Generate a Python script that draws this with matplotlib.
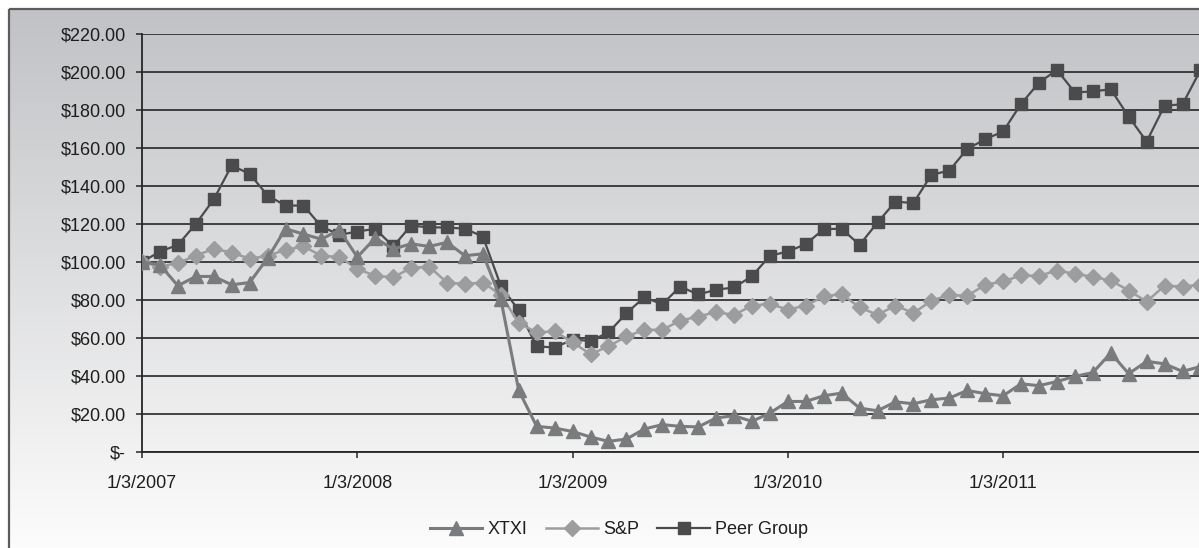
import numpy as np
import matplotlib
matplotlib.use("Agg")
import matplotlib.pyplot as plt

# ---------------- data ----------------
months = list(range(60))  # monthly points starting 1/3/2007
xtxi = [100, 98.5, 87.5, 92.4, 92.4, 88.0, 89.2, 102.0, 117.5, 114.7,
        112.0, 116.9, 102.6, 112.6, 106.8, 109.6, 108.2, 110.3, 103.3, 104.3,
        80.5, 32.4, 13.5, 12.6, 10.8, 7.9, 5.6, 6.8, 12.1, 14.4,
        13.5, 13.2, 17.9, 19.1, 16.1, 20.5, 26.6, 26.6, 29.6, 31.0,
        23.1, 21.7, 26.4, 25.4, 27.5, 28.4, 32.4, 30.7, 29.6, 35.9,
        34.9, 37.1, 39.8, 41.8, 52.1, 41.2, 47.7, 46.4, 42.4, 45.0]
sp = [100, 97.6, 99.4, 103.4, 106.9, 105.0, 101.7, 103.3, 106.4, 108.2,
      103.3, 102.6, 96.4, 92.7, 92.0, 96.8, 97.6, 89.2, 88.4, 89.2,
      82.7, 67.9, 62.9, 63.5, 57.7, 51.5, 55.6, 60.8, 64.3, 64.3,
      69.1, 71.3, 73.6, 72.2, 77.0, 78.0, 74.9, 77.1, 81.9, 83.1,
      76.1, 72.2, 77.1, 73.1, 79.6, 82.7, 82.2, 88.0, 89.8, 92.9,
      92.7, 95.5, 93.8, 92.2, 90.3, 85.0, 79.2, 87.5, 87.1, 88.0]
peer = [100, 105.5, 109.0, 120.0, 133.0, 150.8, 146.4, 135.0, 129.7, 129.7,
        118.7, 114.3, 116.0, 117.5, 108.2, 119.2, 118.2, 118.2, 117.5, 113.4,
        87.5, 74.5, 55.6, 55.0, 59.1, 58.5, 62.9, 73.0, 81.5, 77.7,
        87.1, 82.9, 85.4, 86.6, 92.5, 103.3, 105.5, 109.4, 117.3, 117.5,
        109.0, 120.8, 131.8, 131.0, 145.9, 148.1, 159.5, 164.6, 168.7, 183.2,
        194.4, 201.1, 189.2, 189.8, 190.9, 176.5, 163.4, 182.3, 183.0, 201.0]
tick_positions = [0, 12, 24, 36, 48]
tick_labels = ["1/3/2007", "1/3/2008", "1/3/2009", "1/3/2010", "1/3/2011"]
y_ticks = list(range(0, 221, 20))
series_names = ["XTXI", "S&P", "Peer Group"]

# ---------------- style ----------------
plt.rcParams['font.family'] = ['Liberation Sans', 'DejaVu Sans']
W, H = 1199, 548
fig = plt.figure(figsize=(W / 100, H / 100), dpi=100)
fig.patch.set_facecolor('white')

# background gradient + chart frame
bg = fig.add_axes([0, 0, 1, 1], zorder=0)
bg.axis('off')
grad = np.linspace(0, 1, 256)[:, None, None]
top = np.array([0.757, 0.761, 0.773])
bot = np.array([1.0, 1.0, 1.0])
img = top + (bot - top) * grad
bg.imshow(img, extent=[9, W + 20, 575, 9], aspect='auto', interpolation='bilinear')
bg.plot([9, 9], [H + 10, 9], color='#5c5c5c', lw=1.6, solid_capstyle='butt')
bg.plot([9, W + 10], [9, 9], color='#5c5c5c', lw=1.6, solid_capstyle='butt')
bg.set_xlim(0, W)
bg.set_ylim(H, 0)

# main axes (extends past the right edge, as in the cropped reference)
x0, y_top, y_bot, x_right = 142, 34, 452, 1215
px_per_month = 17.94
ax = fig.add_axes([x0 / W, (H - y_bot) / H, (x_right - x0) / W, (y_bot - y_top) / H], zorder=1)
ax.patch.set_alpha(0)

c_peer, c_sp, c_xtxi = '#4b4b4d', '#9c9d9f', '#7a7b7d'
l_peer, = ax.plot(months, peer, color=c_peer, lw=1.6, marker='s', ms=8.5,
                  mec=c_peer, mfc=c_peer, zorder=3)
l_sp, = ax.plot(months, sp, color=c_sp, lw=1.8, marker='D', ms=8.3,
                mec=c_sp, mfc=c_sp, zorder=4)
l_x, = ax.plot(months, xtxi, color=c_xtxi, lw=2.2, marker='^', ms=9.5,
               mec=c_xtxi, mfc=c_xtxi, zorder=5)

ax.set_xlim(0, (x_right - x0) / px_per_month)
ax.set_ylim(0, 220)
ax.set_yticks(y_ticks)
ax.set_yticklabels(["$-" if v == 0 else f"${v:,.2f}" for v in y_ticks])
ax.set_xticks(tick_positions)
ax.set_xticklabels(tick_labels)
ax.yaxis.grid(True, color='#262626', lw=1.2)
ax.set_axisbelow(True)
for s in ['top', 'right']:
    ax.spines[s].set_visible(False)
for s in ['left', 'bottom']:
    ax.spines[s].set_color('#262626')
    ax.spines[s].set_linewidth(1.3)
ax.tick_params(axis='both', direction='out', length=4.5, width=1.1, color='#262626',
               labelsize=13, labelcolor='#1e1e1e')
ax.tick_params(axis='y', pad=7)
ax.tick_params(axis='x', pad=12)

leg = fig.legend([l_x, l_sp, l_peer], series_names, loc='center',
                 bbox_to_anchor=(619 / W, 1 - 530 / H), ncol=3, frameon=False,
                 fontsize=13, handlelength=2.9, handletextpad=0.3,
                 columnspacing=1.0)
for t in leg.get_texts():
    t.set_color('#1e1e1e')

fig.savefig('out.png', dpi=100)
